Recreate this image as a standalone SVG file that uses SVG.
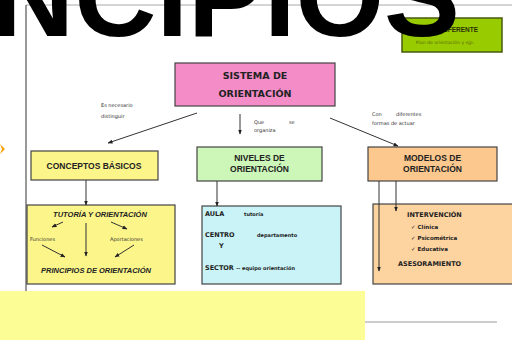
<svg xmlns="http://www.w3.org/2000/svg" width="512" height="340" viewBox="0 0 512 340">
<defs>
<style>
.box{stroke:#444;stroke-width:1.2}
.hdr{font-family:"Liberation Sans",Arial,sans-serif;font-weight:bold;font-size:8.5px;fill:#222;text-anchor:middle}
.cs{font-family:"DejaVu Sans",sans-serif;font-weight:bold;fill:#222}
.sm{font-family:"DejaVu Sans",sans-serif;font-size:5px;fill:#333}
.ln{stroke:#333;stroke-width:1;fill:none}
.it{font-family:"Liberation Sans",Arial,sans-serif;font-weight:bold;font-style:italic;font-size:7.5px;fill:#222;text-anchor:middle}
</style>
<marker id="ah" viewBox="0 0 10 10" refX="9" refY="5" markerWidth="5" markerHeight="5" orient="auto">
<path d="M0,1 L10,5 L0,9 z" fill="#222"/>
</marker>
</defs>
<rect width="512" height="340" fill="#fff"/>
<line x1="26" y1="5" x2="512" y2="5" stroke="#aaa" stroke-width="1"/>
<line x1="26" y1="5" x2="26" y2="292" stroke="#555" stroke-width="1.2"/>

<g id="referente">
<rect x="402" y="18" width="100" height="34" fill="#99cc00" stroke="#4a5a10" stroke-width="1.5"/>
<text x="478" y="32" font-family="Liberation Sans,Arial,sans-serif" font-weight="bold" font-size="6.5" fill="#2a3300" text-anchor="end">REFERENTE</text>
<text x="445" y="44" font-family="DejaVu Sans,sans-serif" font-size="4.6" fill="#5a6a10" text-anchor="middle">Plan de orientación y ejp.</text>
</g>

<text x="-8" y="36" font-family="Liberation Sans,Arial,sans-serif" font-weight="bold" font-size="114" textLength="468" lengthAdjust="spacingAndGlyphs" fill="#000">NCIPIOS</text>

<polygon points="0,144 5,149 0,154 2,149" fill="#f5a000"/>

<text class="sm"><tspan x="101" y="107">Es necesario</tspan><tspan x="101" y="118">distinguir</tspan></text>
<text class="sm"><tspan x="254" y="124">Que</tspan><tspan x="289" y="124">se</tspan><tspan x="254" y="132">organiza</tspan></text>
<text class="sm"><tspan x="372" y="116">Con</tspan><tspan x="396" y="116">diferentes</tspan><tspan x="372" y="125">formas de actuar</tspan></text>

<g id="sistema">
<rect class="box" x="175" y="63" width="160" height="43" fill="#f48cc8"/>
<text class="cs" font-size="9.5" text-anchor="middle"><tspan x="255" y="79">SISTEMA DE</tspan><tspan x="255" y="97">ORIENTACIÓN</tspan></text>
</g>

<g id="conceptos">
<rect class="box" x="31" y="151" width="127" height="29" fill="#fcf58a"/>
<text class="hdr" x="94" y="169">CONCEPTOS BÁSICOS</text>
</g>

<g id="niveles">
<rect class="box" x="197" y="147" width="125" height="34" fill="#ccf7b8"/>
<text class="hdr"><tspan x="259.5" y="161">NIVELES DE</tspan><tspan x="259.5" y="172">ORIENTACIÓN</tspan></text>
</g>

<g id="modelos">
<rect class="box" x="368" y="147" width="129" height="34" fill="#fcc88e"/>
<text class="hdr"><tspan x="432.5" y="161">MODELOS DE</tspan><tspan x="432.5" y="172">ORIENTACIÓN</tspan></text>
</g>

<g id="tutoria">
<rect class="box" x="27" y="205" width="148" height="79" fill="#fcf58a"/>
<text class="it" x="100" y="217">TUTORÍA Y ORIENTACIÓN</text>
<text class="sm" x="30" y="241">Funciones</text>
<text class="sm" x="110" y="241">Aportaciones</text>
<text class="it" x="96" y="273">PRINCIPIOS DE ORIENTACIÓN</text>
<line class="ln" x1="63" y1="222" x2="52" y2="227" marker-end="url(#ah)"/>
<line class="ln" x1="42" y1="245" x2="65" y2="257" marker-end="url(#ah)"/>
<line class="ln" x1="86" y1="223" x2="86" y2="256" marker-end="url(#ah)"/>
<line class="ln" x1="111" y1="222" x2="127" y2="229" marker-end="url(#ah)"/>
<line class="ln" x1="134" y1="245" x2="115" y2="257" marker-end="url(#ah)"/>
</g>

<g id="nivelesdet">
<rect class="box" x="202" y="206" width="139" height="78" fill="#c9f3f7"/>
<text class="cs" font-size="6.5" x="205" y="216">AULA</text>
<text class="cs" font-size="5" x="244" y="216">tutoría</text>
<text class="cs" font-size="6.5" x="205" y="237">CENTRO</text>
<text class="cs" font-size="5" x="257" y="237">departamento</text>
<text class="cs" font-size="6.5" x="219" y="248">Y</text>
<text class="cs" font-size="6.5" x="205" y="270">SECTOR <tspan font-size="5">-- equipo orientación</tspan></text>
</g>

<g id="modelosdet">
<rect class="box" x="373" y="204" width="145" height="80" fill="#fdd3a0"/>
<text class="cs" font-size="6.5" x="407" y="217">INTERVENCIÓN</text>
<text class="cs" font-size="5.5" font-weight="normal"><tspan x="411" y="229">✓ Clínica</tspan><tspan x="411" y="240">✓ Psicométrica</tspan><tspan x="411" y="251">✓ Educativa</tspan></text>
<text class="cs" font-size="6.5" x="398" y="266">ASESORAMIENTO</text>
</g>

<g id="connectors">
<line class="ln" x1="197" y1="113" x2="108" y2="143" marker-end="url(#ah)"/>
<line class="ln" x1="240" y1="114" x2="240" y2="134" marker-end="url(#ah)"/>
<line class="ln" x1="330" y1="118" x2="398" y2="146" marker-end="url(#ah)"/>
<line class="ln" x1="86" y1="180" x2="86" y2="205" marker-end="url(#ah)"/>
<line class="ln" x1="217" y1="181" x2="217" y2="206" marker-end="url(#ah)"/>
<line class="ln" x1="379" y1="181" x2="379" y2="271" marker-end="url(#ah)"/>
<line class="ln" x1="396" y1="181" x2="396" y2="211" marker-end="url(#ah)"/>
</g>

<rect x="0" y="291" width="365" height="49" fill="#fdfd96"/>
<line x1="365" y1="322" x2="497" y2="322" stroke="#999" stroke-width="1"/>
</svg>
